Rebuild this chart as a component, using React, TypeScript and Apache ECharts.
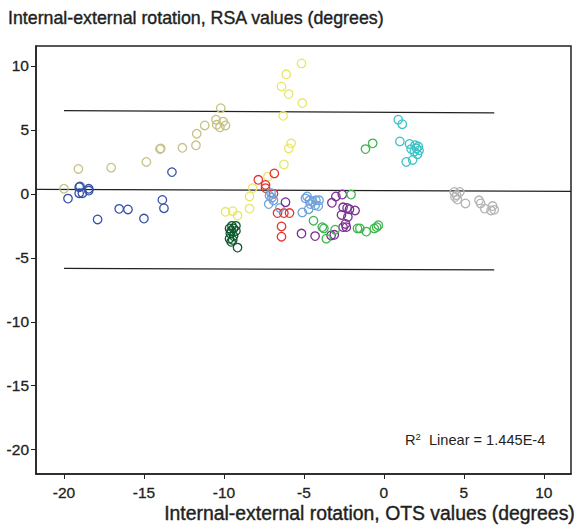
import React, { useEffect, useRef } from "react";
import * as echarts from "echarts";

const xTicks = [-20, -15, -10, -5, 0, 5, 10];
const yTicks = [10, 5, 0, -5, -10, -15, -20];

const olive = [[-20.0, 0.4], [-19.1, 1.95], [-17.05, 2.05], [-14.85, 2.5], [-14.0, 3.5], [-13.95, 3.55], [-12.6, 3.6], [-11.75, 3.8], [-11.7, 4.7], [-11.2, 5.35], [-10.5, 5.8], [-10.45, 5.4], [-10.2, 6.7], [-10.05, 5.65], [-10.25, 5.2], [-9.9, 5.35]];
const darkBlue = [[-19.05, 0.52], [-19.0, 0.58], [-19.05, 0.05], [-18.85, 0.05], [-18.45, 0.4], [-18.45, 0.26], [-19.75, -0.37], [-13.25, 1.7], [-17.9, -2.0], [-16.55, -1.17], [-16.0, -1.22], [-15.0, -1.93], [-13.85, -0.47], [-13.75, -1.12]];
const yellow = [[-5.15, 10.2], [-6.1, 9.35], [-6.4, 8.4], [-5.95, 7.8], [-5.1, 7.1], [-6.3, 6.1], [-5.8, 3.95], [-5.95, 3.55], [-6.25, 2.3], [-7.25, 1.35], [-8.2, 0.45], [-8.4, -0.2], [-8.4, -1.15], [-9.9, -1.4], [-9.45, -1.35], [-9.15, -1.7]];
const red = [[-7.85, 1.1], [-6.85, 1.6], [-7.4, 0.7], [-7.4, 0.45], [-6.9, 0.0], [-6.65, -1.5], [-6.25, -1.5], [-5.9, -1.5], [-6.4, -2.55], [-6.4, -3.35]];
const darkGreen = [[-9.5, -2.5], [-9.25, -2.5], [-9.65, -2.7], [-9.4, -2.7], [-9.25, -2.9], [-9.55, -2.9], [-9.6, -3.1], [-9.4, -3.3], [-9.65, -3.5], [-9.55, -3.75], [-9.45, -3.6], [-9.15, -4.2]];
const lightBlue = [[-7.15, -0.15], [-7.0, -0.3], [-7.2, -0.8], [-6.9, -0.5], [-7.05, 0.05], [-6.5, -1.1], [-4.8, -0.2], [-4.65, -0.5], [-4.45, -0.6], [-4.25, -0.5], [-4.05, -0.5], [-4.6, -0.8], [-4.3, -0.9], [-4.1, -0.95], [-4.7, -1.2], [-5.1, -1.45], [-4.9, -0.35]];
const purple = [[-6.15, -0.65], [-5.15, -3.1], [-4.3, -3.3], [-3.0, -0.2], [-2.6, -0.05], [-3.25, -0.7], [-2.55, -1.05], [-2.3, -1.1], [-2.15, -1.2], [-1.8, -1.3], [-2.65, -1.65], [-2.25, -1.8], [-2.4, -2.35], [-2.55, -2.6], [-2.35, -2.6], [-3.3, -3.25], [-3.1, -3.2]];
const green = [[-2.05, -0.05], [-4.4, -2.1], [-3.85, -2.6], [-3.75, -2.7], [-3.6, -3.5], [-3.05, -2.8], [-1.65, -2.7], [-1.5, -2.7], [-1.1, -2.95], [-0.6, -2.7], [-0.45, -2.6], [-0.35, -2.45], [-1.15, 3.5], [-0.7, 3.95]];
const cyan = [[0.9, 5.8], [1.15, 5.45], [1.0, 4.1], [1.6, 3.9], [1.95, 3.8], [1.7, 3.5], [2.05, 3.55], [2.2, 3.4], [1.9, 3.3], [2.1, 3.1], [1.8, 2.65], [1.4, 2.5], [2.15, 3.7]];
const gray = [[4.4, 0.15], [4.75, 0.15], [4.45, -0.25], [4.6, -0.45], [5.1, -0.75], [5.95, -0.5], [6.05, -0.75], [6.3, -1.15], [6.8, -0.95], [6.9, -1.25], [6.7, -1.3], [4.55, -0.1]];

const fitLine = [[-21.75, 0.35], [11.7, 0.2]];
const upperLine = [[-20.0, 6.5], [6.9, 6.33]];
const lowerLine = [[-20.0, -5.83], [6.9, -5.94]];

const groups = [
  { data: olive, color: "#c6c184" },
  { data: darkBlue, color: "#3550a8" },
  { data: yellow, color: "#e9e66a" },
  { data: red, color: "#e5332f" },
  { data: darkGreen, color: "#0d5a2d" },
  { data: lightBlue, color: "#6ea2dc" },
  { data: purple, color: "#7a2e93" },
  { data: green, color: "#3db64c" },
  { data: cyan, color: "#3cc3c6" },
  { data: gray, color: "#b4b4b4" },
];

const FONT = "'Liberation Sans', Arial, Helvetica, sans-serif";
const TEXT = "#231f20";

export default function App() {
  const ref = useRef<HTMLDivElement>(null);
  useEffect(() => {
    if (!ref.current) return;
    const chart = echarts.init(ref.current, null, { renderer: "svg" });
    const lineSeries = (d: number[][]) => ({
      type: "line",
      data: d,
      symbol: "none",
      lineStyle: { color: "#222", width: 1.2 },
      silent: true,
      z: 1,
    });
    const axisLabelStyle = {
      fontFamily: FONT,
      fontSize: 15.5,
      color: TEXT,
      textBorderColor: TEXT,
      textBorderWidth: 0.3,
    };
    chart.setOption({
      animation: false,
      backgroundColor: "#fff",
      textStyle: { fontFamily: FONT },
      title: {
        text: "Internal-external rotation, RSA values (degrees)",
        left: 8,
        top: 9,
        padding: 0,
        textStyle: {
          fontFamily: FONT,
          fontSize: 17.8,
          fontWeight: "normal",
          color: TEXT,
          textBorderColor: TEXT,
          textBorderWidth: 0.4,
        },
      },
      grid: { left: 36, top: 46, right: 8, bottom: 52, show: true, borderColor: "#222", borderWidth: 1.5 },
      xAxis: {
        type: "value",
        min: -21.75,
        max: 11.7,
        axisLine: { show: true, onZero: false, lineStyle: { color: "#222", width: 1.5 } },
        axisTick: { show: true, length: 5, customValues: xTicks, lineStyle: { color: "#222", width: 1 } },
        axisLabel: { customValues: xTicks, margin: 10, ...axisLabelStyle },
        splitLine: { show: false },
      },
      yAxis: {
        type: "value",
        min: -21.9,
        max: 11.56,
        axisLine: { show: true, onZero: false, lineStyle: { color: "#222", width: 1.5 } },
        axisTick: { show: true, length: 5, customValues: yTicks, lineStyle: { color: "#222", width: 1 } },
        axisLabel: { customValues: yTicks, margin: 7, ...axisLabelStyle },
        splitLine: { show: false },
      },
      graphic: [
        {
          type: "text",
          right: 4,
          top: 503,
          style: {
            text: "Internal-external rotation, OTS values (degrees)",
            font: `19.4px ${FONT}`,
            fill: TEXT,
            stroke: TEXT,
            lineWidth: 0.4,
          },
        },
        {
          type: "text",
          left: 405,
          top: 431,
          style: {
            text: "R{sup|2}  Linear = 1.445E-4",
            font: `14.6px ${FONT}`,
            fill: TEXT,
            rich: {
              sup: { fontSize: 9.5, fontFamily: FONT, fill: TEXT, padding: [0, 0, 7, 0] },
            },
          },
        },
      ],
      series: [
        lineSeries(fitLine),
        lineSeries(upperLine),
        lineSeries(lowerLine),
        ...groups.map((g) => ({
          type: "scatter",
          data: g.data,
          symbol: "circle",
          symbolSize: 8.5,
          itemStyle: { color: "rgba(0,0,0,0)", borderColor: g.color, borderWidth: 1.3, opacity: 1 },
          z: 2,
        })),
      ],
    });
    return () => chart.dispose();
  }, []);
  return <div ref={ref} style={{ position: "fixed", left: 0, top: 0, width: 579, height: 526 }} />;
}
